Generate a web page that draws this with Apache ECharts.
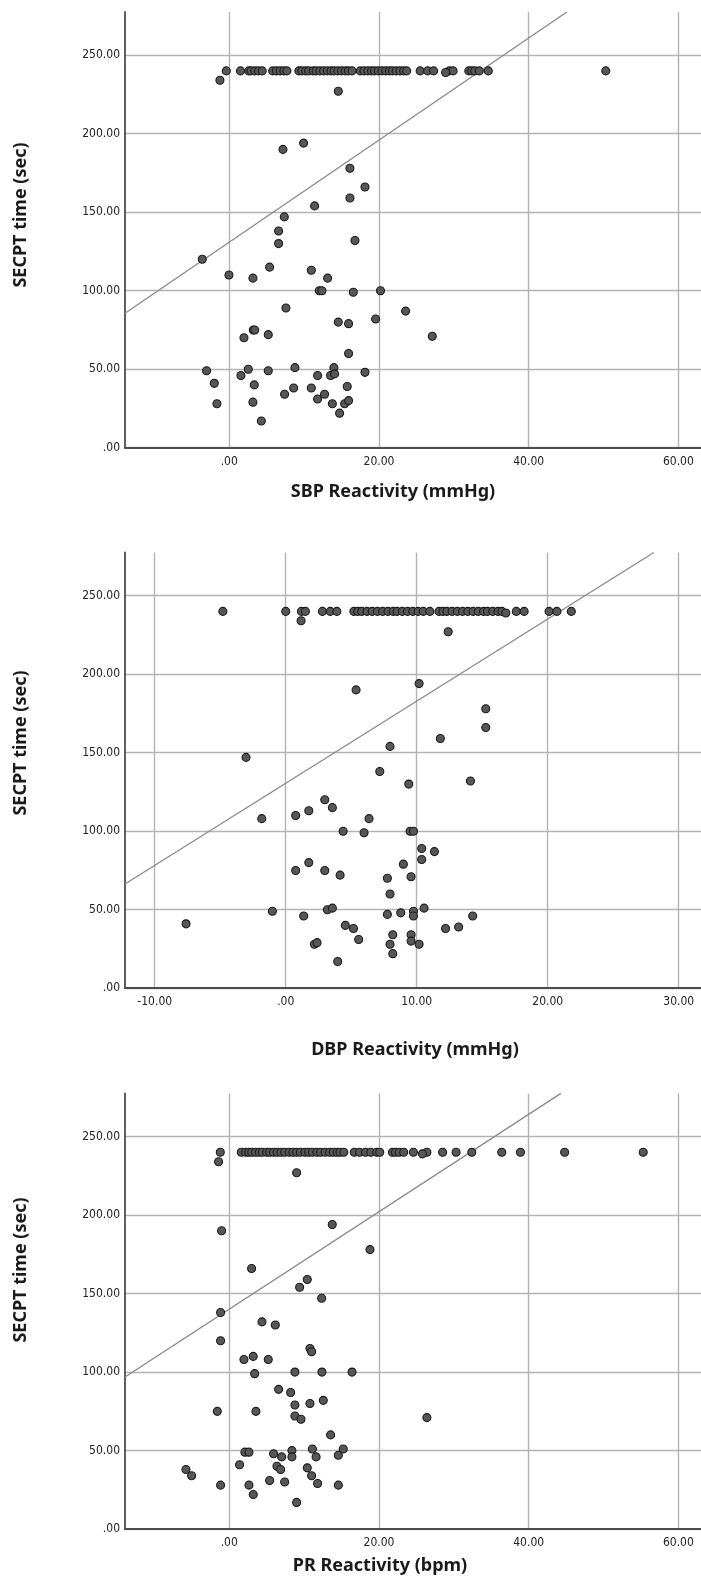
<!DOCTYPE html>
<html><head><meta charset="utf-8">
<script src="https://cdn.jsdelivr.net/npm/echarts@6/dist/echarts.min.js"></script>
<style>html,body{margin:0;padding:0;background:#fff}#c{width:701px;height:1578px}</style>
</head><body><div id="c"></div>
<script>
// ---------- tick values ----------
const yTicks = [0, 50, 100, 150, 200, 250];
const xTicksSBP = [0, 20, 40, 60];
const xTicksDBP = [-10, 0, 10, 20, 30];
const xTicksPR = [0, 20, 40, 60];

// ---------- axis ranges (as seen in the picture) ----------
const yRange = [0, 277.5];
const xRangeSBP = [-13.93, 63.02];
const xRangeDBP = [-12.27, 31.70];
const xRangePR = [-13.93, 63.02];

// ---------- titles ----------
const yTitle = 'SECPT time (sec)';
const xTitles = ['SBP Reactivity (mmHg)', 'DBP Reactivity (mmHg)', 'PR Reactivity (bpm)'];

// ---------- SBP panel ----------
const sbpTop = [-0.4,1.5,2.6,2.9,3.4,3.9,4.4,5.8,6.3,6.8,7.3,7.7,9.3,9.7,10.2,10.6,11.2,11.6,12.1,12.6,13.1,13.6,14.0,14.5,15.0,15.5,15.9,16.4,17.5,18.0,18.5,19.0,19.4,19.9,20.4,20.9,21.4,21.8,22.3,22.8,23.3,23.7,25.5,26.5,27.3,29.4,29.9,32.0,32.4,32.8,33.4,34.6,50.3];
const sbpOther = [[28.9,239],[-1.25,234],[14.56,227],[7.17,190],[9.93,194],[16.12,178],[18.13,166],[16.12,159],[11.4,154],[7.35,147],[6.59,138],[6.59,130],[16.79,132],[-3.61,120],[-0.04,110],[3.16,108],[5.39,115],[10.96,113],[13.14,108],[12.02,100],[12.38,100],[16.57,99],[20.2,100],[7.57,89],[23.56,87],[14.56,80],[15.94,79],[19.55,82],[27.12,71],[1.96,70],[3.21,75],[3.4,75],[5.21,72],[15.94,60],[-3.03,49],[-2.0,41],[-1.65,28],[1.56,46],[2.54,50],[5.21,49],[3.34,40],[3.16,29],[4.28,17],[8.77,51],[7.39,34],[8.6,38],[10.96,38],[11.8,46],[11.8,31],[12.73,34],[13.77,28],[13.54,46],[13.98,51],[14.07,47],[14.74,22],[15.41,28],[15.94,30],[15.76,39],[18.13,48]];
const sbpFit = [[-13.93, 85.6], [45.1, 277.5]];

// ---------- DBP panel ----------
const dbpTop = [-4.8,0.0,1.2,1.5,2.8,3.4,3.9,5.2,5.5,5.8,6.2,6.6,7.0,7.4,7.8,8.2,8.5,8.9,9.3,9.7,10.1,10.5,11.0,11.7,12.0,12.3,12.7,13.1,13.5,13.9,14.3,14.7,15.1,15.4,15.8,16.2,16.5,17.6,18.2,20.1,20.7,21.8];
const dbpOther = [[16.8,239],[1.17,234],[12.4,227],[5.37,190],[10.18,194],[15.27,178],[15.27,166],[11.8,159],[-3.03,147],[7.96,154],[7.18,138],[9.39,130],[14.1,132],[2.98,120],[3.56,115],[1.76,113],[0.76,110],[-1.83,108],[6.36,108],[4.38,100],[5.98,99],[9.49,100],[9.75,100],[10.38,89],[11.35,87],[10.38,82],[8.98,79],[0.76,75],[1.76,80],[2.98,75],[4.15,72],[7.76,70],[9.57,71],[7.96,60],[-1.02,49],[-7.61,41],[1.37,46],[3.18,50],[3.56,51],[7.76,47],[8.78,48],[9.75,49],[9.75,46],[10.56,51],[4.55,40],[5.17,38],[5.57,31],[2.19,28],[2.39,29],[3.97,17],[8.17,34],[7.96,28],[8.17,22],[9.57,34],[9.57,30],[10.18,28],[12.2,38],[13.2,39],[14.27,46]];
const dbpFit = [[-12.27, 66.4], [28.1, 277.5]];

// ---------- PR panel ----------
const prTop = [-1.2,1.6,2.2,2.6,3.0,3.5,4.0,4.4,5.0,5.4,5.9,6.4,6.9,7.4,8.0,8.5,9.0,9.5,10.1,10.6,11.1,11.7,12.2,12.8,13.4,13.9,14.4,14.8,15.3,16.7,17.4,18.2,18.9,19.7,20.1,21.8,22.2,22.7,23.3,24.6,26.4,28.5,30.3,32.4,36.4,38.9,44.8,55.3];
const prOther = [[25.8,239],[-1.43,234],[9.0,227],[-1.02,190],[13.76,194],[18.8,178],[2.98,166],[10.42,159],[9.4,154],[12.34,147],[-1.16,138],[4.37,132],[6.15,130],[-1.16,120],[10.78,115],[11.0,113],[1.96,108],[3.2,110],[5.21,108],[3.39,99],[8.77,100],[12.38,100],[16.4,100],[6.59,89],[8.2,87],[8.77,79],[10.78,80],[12.56,82],[-1.6,75],[3.56,75],[8.77,72],[9.58,70],[26.4,71],[13.54,60],[2.09,49],[2.63,49],[5.92,48],[7.0,46],[8.37,50],[8.37,46],[11.1,51],[11.6,46],[14.57,47],[15.23,51],[1.38,41],[6.37,40],[6.86,38],[10.42,39],[11.0,34],[-5.79,38],[-5.03,34],[-1.16,28],[2.63,28],[5.39,31],[7.4,30],[11.8,29],[14.57,28],[3.2,22],[9.0,17]];
const prFit = [[-13.93, 96.9], [44.3, 277.5]];

// ---------- build ----------
const TOP_VALUE = 240;
function withTop(top, other) { return top.map(x => [x, TOP_VALUE]).concat(other); }

const gridTops = [12, 552.5, 1093.4];
const plotH = 435.7;
const fmt = v => (v === 0 ? '.00' : v.toFixed(2));
const tickFont = '"DejaVu Sans Condensed","Liberation Sans Narrow","Liberation Sans",sans-serif';

const panels = [
  { xr: xRangeSBP, xt: xTicksSBP, pts: withTop(sbpTop, sbpOther), fit: sbpFit },
  { xr: xRangeDBP, xt: xTicksDBP, pts: withTop(dbpTop, dbpOther), fit: dbpFit },
  { xr: xRangePR, xt: xTicksPR, pts: withTop(prTop, prOther), fit: prFit }
];

const grid = [], xAxis = [], yAxis = [], series = [];
const gridLine = { show: true, lineStyle: { color: '#b3b3b3', width: 1.4 } };
panels.forEach((p, i) => {
  grid.push({ left: 125, top: gridTops[i], right: 0, height: plotH, containLabel: false });
  xAxis.push({
    type: 'value', gridIndex: i, min: p.xr[0], max: p.xr[1],
    axisLine: { show: true, onZero: false, lineStyle: { color: '#4d4d4d', width: 1.8 } },
    axisTick: { show: false, customValues: p.xt },
    axisLabel: { customValues: p.xt, formatter: fmt, margin: 8, color: '#222', fontSize: 12, fontFamily: tickFont },
    splitLine: gridLine
  });
  yAxis.push({
    type: 'value', gridIndex: i, min: yRange[0], max: yRange[1],
    axisLine: { show: true, onZero: false, lineStyle: { color: '#4d4d4d', width: 1.8 } },
    axisTick: { show: false, customValues: yTicks },
    axisLabel: { customValues: yTicks, formatter: fmt, margin: 5, color: '#222', fontSize: 12, fontFamily: tickFont },
    splitLine: gridLine
  });
  series.push({
    type: 'line', xAxisIndex: i, yAxisIndex: i, data: p.fit, showSymbol: false, silent: true, clip: true,
    lineStyle: { color: '#888', width: 1.3 }, z: 2
  });
  series.push({
    type: 'scatter', xAxisIndex: i, yAxisIndex: i, data: p.pts, symbolSize: 8,
    itemStyle: { color: '#575757', borderColor: '#1a1a1a', borderWidth: 1.1, opacity: 1 }, z: 3
  });
});

const titleFont = 'bold 18px "Noto Sans", "Open Sans", sans-serif';
const xTitlePos = [[393, 492], [415, 1050], [380, 1566]];
const yTitlePos = [[21, 215], [21, 743], [21, 1270]];
const graphic = [];
xTitles.forEach((t, i) => {
  graphic.push({ type: 'text', x: xTitlePos[i][0], y: xTitlePos[i][1],
    style: { text: t, font: titleFont, fill: '#1a1a1a', textAlign: 'center', textVerticalAlign: 'middle' } });
  graphic.push({ type: 'text', x: yTitlePos[i][0], y: yTitlePos[i][1], rotation: Math.PI / 2,
    style: { text: yTitle, font: titleFont, fill: '#1a1a1a', textAlign: 'center', textVerticalAlign: 'middle' } });
});

const chart = echarts.init(document.getElementById('c'), null, { renderer: 'canvas' });
chart.setOption({ animation: false, backgroundColor: '#fff', grid, xAxis, yAxis, series, graphic });
</script></body></html>
